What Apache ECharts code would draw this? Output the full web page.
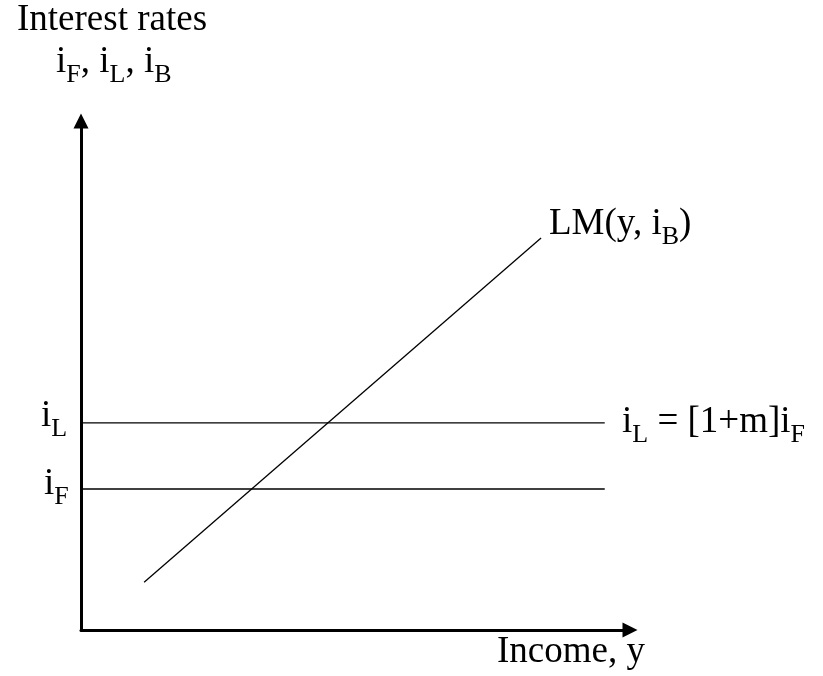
<!DOCTYPE html>
<html>
<head>
<meta charset="utf-8">
<title>LM curve with loan and funding rates</title>
<script src="https://cdn.jsdelivr.net/npm/echarts@6/dist/echarts.min.js"></script>
<style>
  html, body { margin: 0; padding: 0; background: #ffffff; }
  #chart { width: 823px; height: 676px; }
</style>
</head>
<body>
<div id="chart"></div>
<script>
// Income axis and interest-rate axis run on an abstract 0..10 scale
const axisRange = [0, 10];

// Horizontal rate lines: loan rate i_L and funding rate i_F
const rateLineIncome = [0, 9.54];
const loanRate = 4.07;
const fundingRate = 2.77;

// LM(y, i_B) schedule: two end points (income, rate)
const lmIncome = [1.15, 8.38];
const lmRate = [0.94, 7.70];

// Text labels (rich-text markup, {s|..} is a subscript)
const titleText = 'Interest rates';
const rateSymbols = '{n|i}{s|F}{n|, i}{s|L}{n|, i}{s|B}';
const loanLabel = '{n|i}{s|L}';
const fundingLabel = '{n|i}{s|F}';
const lmLabel = '{n|LM(y, i}{s|B}{n|)}';
const markupLabel = '{n|i}{s|L}{n| = [1+m]i}{s|F}';
const incomeText = 'Income, y';

const FONT = '"Liberation Serif", "Times New Roman", serif';
const rich = {
  n: { fontFamily: FONT, fontSize: 37, color: '#000', verticalAlign: 'bottom', padding: [0, 0, 7, 0], lineHeight: 50 },
  s: { fontFamily: FONT, fontSize: 26, color: '#000', verticalAlign: 'bottom', lineHeight: 50 }
};

function label(text, x, y) {
  return {
    type: 'text', x: x, y: y, silent: true,
    style: { text: text, rich: rich, align: 'left', verticalAlign: 'top', fill: '#000' }
  };
}

const lineStyle = { color: '#000', width: 1.3 };

const chart = echarts.init(document.getElementById('chart'), null, { renderer: 'canvas' });
chart.setOption({
  animation: false,
  backgroundColor: '#ffffff',
  grid: { left: 81, right: 193, top: 121, bottom: 46 },
  xAxis: {
    type: 'value', min: axisRange[0], max: axisRange[1],
    axisLine: { show: true, lineStyle: { color: '#000', width: 3 }, symbol: ['none', 'triangle'], symbolSize: [15, 15] },
    axisTick: { show: false }, axisLabel: { show: false }, splitLine: { show: false }
  },
  yAxis: {
    type: 'value', min: axisRange[0], max: axisRange[1],
    axisLine: { show: true, lineStyle: { color: '#000', width: 3 }, symbol: ['none', 'triangle'], symbolSize: [15, 15] },
    axisTick: { show: false }, axisLabel: { show: false }, splitLine: { show: false }
  },
  series: [
    {
      name: 'i_L', type: 'line', showSymbol: false, silent: true, lineStyle: lineStyle,
      data: rateLineIncome.map(x => [x, loanRate])
    },
    {
      name: 'i_F', type: 'line', showSymbol: false, silent: true, lineStyle: lineStyle,
      data: rateLineIncome.map(x => [x, fundingRate])
    },
    {
      name: 'LM', type: 'line', showSymbol: false, silent: true, lineStyle: lineStyle,
      data: lmIncome.map((x, k) => [x, lmRate[k]])
    }
  ],
  graphic: [
    label('{n|' + titleText + '}', 17, -4),
    label(rateSymbols, 56, 38),
    label(loanLabel, 41, 392),
    label(fundingLabel, 44, 460),
    label(lmLabel, 549, 200),
    label(markupLabel, 622, 398),
    label('{n|' + incomeText + '}', 497, 628)
  ]
});
</script>
</body>
</html>
